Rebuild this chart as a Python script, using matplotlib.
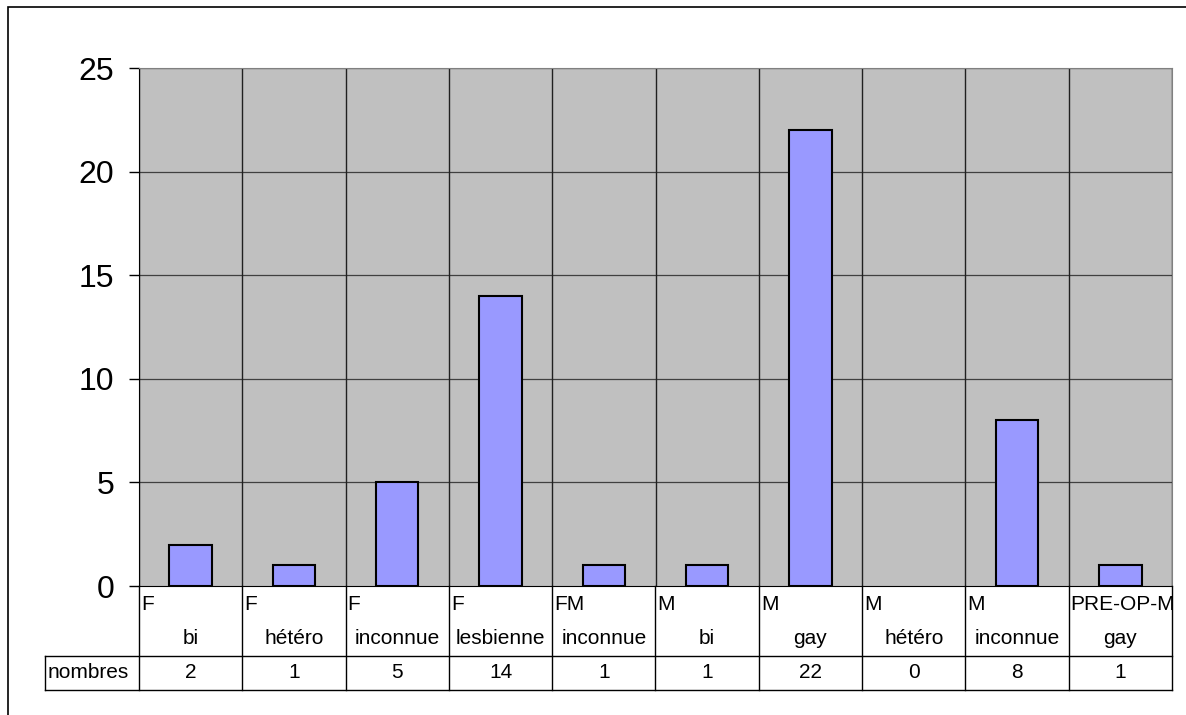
import matplotlib.pyplot as plt
from matplotlib.patches import Rectangle

plt.rcParams['font.family'] = ['Liberation Sans', 'DejaVu Sans']

# données
groupes = ["F", "F", "F", "F", "FM", "M", "M", "M", "M", "PRE-OP-M"]
orientations = ["bi", "hétéro", "inconnue", "lesbienne", "inconnue",
                "bi", "gay", "hétéro", "inconnue", "gay"]
nombres = [2, 1, 5, 14, 1, 1, 22, 0, 8, 1]
yticks = [0, 5, 10, 15, 20, 25]

W, H = 1186, 715
fig = plt.figure(figsize=(W / 100, H / 100), dpi=100)

# cadre extérieur
fig.patches.append(Rectangle((8 / W, -0.1), 1.2, 1 - 7 / H + 0.1, transform=fig.transFigure,
                             fill=False, edgecolor='black', lw=1.2))

x0, x1 = 139, 1172
ytop, ybot = 68, 586
ax = fig.add_axes([x0 / W, 1 - ybot / H, (x1 - x0) / W, (ybot - ytop) / H])
ax.set_facecolor('#C0C0C0')
n = len(nombres)
pos = list(range(n))
largeurs = [1.5 if v else 0 for v in nombres]
ax.bar(pos, nombres, width=0.41, color='#9999FF', edgecolor='black', lw=largeurs, zorder=3)
ax.set_xlim(-0.5, n - 0.5)
ax.set_ylim(0, 25)
ax.set_yticks(yticks)
ax.tick_params(axis='y', length=7, width=1, pad=11, labelsize=23)
ax.set_xticks([])
for y in yticks[1:]:
    ax.axhline(y, color='#404040', lw=0.9, zorder=1)
for i in range(n + 1):
    ax.axvline(i - 0.5, color='#202020', lw=1, zorder=1)
for s in ['top', 'right']:
    ax.spines[s].set_color('#808080')
ax.spines['left'].set_color('black')
ax.spines['bottom'].set_color('black')

# tableau de données
tl = 45
cw = (x1 - x0) / n
tab = fig.add_axes([tl / W, 1 - 690 / H, (x1 - tl) / W, (690 - ybot) / H])
tab.set_xlim(-0.5 - (x0 - tl) / cw, n - 0.5)
tab.set_ylim(0, 104)
tab.axis('off')
lk = dict(color='black', lw=1, clip_on=False)
for i in range(n + 1):
    tab.plot([i - 0.5, i - 0.5], [0, 104], **lk)
xl = -0.5 - (x0 - tl) / cw
tab.plot([xl, n - 0.5], [34, 34], **lk)
tab.plot([xl, n - 0.5], [0, 0], **lk)
tab.plot([xl, xl], [0, 34], **lk)
fs = 15
for i in range(n):
    tab.text(i - 0.5 + 2 / cw, 86, groupes[i], fontsize=fs, ha='left', va='center', clip_on=True)
    tab.text(i, 51, orientations[i], fontsize=fs, ha='center', va='center')
    tab.text(i, 17, str(nombres[i]), fontsize=fs, ha='center', va='center')
tab.text(xl + 3 / cw, 17, "nombres", fontsize=fs, ha='left', va='center')

fig.savefig('out.png', dpi=100)
